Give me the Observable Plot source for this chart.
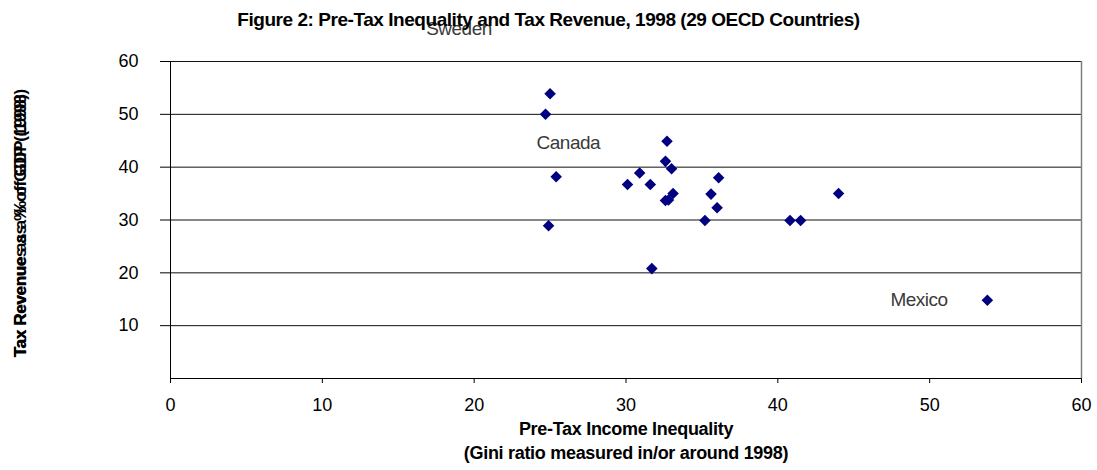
<!DOCTYPE html>
<html>
<head>
<meta charset="utf-8">
<script src="https://cdn.jsdelivr.net/npm/d3@7"></script>
<script src="https://cdn.jsdelivr.net/npm/@observablehq/plot@0.6"></script>
<style>
  html, body { margin: 0; padding: 0; background: #fff; }
  #wrap { position: relative; width: 1097px; height: 470px; }
  #title { position: absolute; left: 0; top: 9px; width: 1097px; text-align: center;
    font-family: "Liberation Sans", Arial, sans-serif; font-weight: bold; font-size: 19px;
    letter-spacing: -0.45px; color: #000; z-index: 2; pointer-events: none; }
</style>
</head>
<body>
<div id="wrap"><div id="title">Figure 2: Pre-Tax Inequality and Tax Revenue, 1998 (29 OECD Countries)</div></div>
<script>
// Pre-tax Gini ratio (x) and tax revenue as % of GDP (y)
const gini       = [25.0, 24.7, 32.7, 32.6, 33.0, 30.9, 25.4, 36.1, 30.1, 31.6, 33.1, 35.6, 44.0, 32.6, 32.8, 36.0, 24.9, 35.2, 40.8, 41.5, 31.7, 53.8];
const taxRevenue = [53.9, 50.0, 44.9, 41.1, 39.7, 38.9, 38.2, 38.0, 36.7, 36.7, 35.0, 34.9, 35.0, 33.7, 33.8, 32.3, 28.9, 29.9, 29.9, 29.9, 20.8, 14.8];

// Data labels as placed in the chart
const labelNames = ["Sweden", "Canada", "Mexico"];
const labelX     = [19.0, 26.2, 49.3];
const labelY     = [66.2, 44.5, 14.8];

const xTicks = [0, 10, 20, 30, 40, 50, 60];
const yTicks = [10, 20, 30, 40, 50, 60];

const xTitle1 = "Pre-Tax Income Inequality";
const xTitle2 = "(Gini ratio measured in/or around 1998)";
const yTitleA = "Tax Revenue as a % of GDP (1998)";
const yTitleB = "Tax Revenues as % of GDP (1998)";

const points = gini.map((g, i) => ({gini: g, tax: taxRevenue[i]}));
const labels = labelNames.map((n, i) => ({name: n, x: labelX[i], y: labelY[i]}));

const font = "Liberation Sans, Arial, sans-serif";

const chart = Plot.plot({
  width: 1097,
  height: 470,
  marginLeft: 170,
  marginRight: 16,
  marginTop: 61,
  marginBottom: 92,
  style: {fontFamily: font, background: "transparent", color: "#000"},
  x: {domain: [0, 60]},
  y: {domain: [0, 60]},
  marks: [
    Plot.ruleY(yTicks, {stroke: "#111", strokeWidth: 1}),
    Plot.ruleY([0], {stroke: "#000", strokeWidth: 1}),
    Plot.ruleX([0], {stroke: "#000", strokeWidth: 1}),
    Plot.ruleX([60], {stroke: "#7f7f7f", strokeWidth: 1.5}),
    Plot.axisX({ticks: xTicks, tickSize: 5, tickPadding: 15, fontSize: 18, label: null, tickFormat: d => String(d)}),
    Plot.axisY({ticks: yTicks, tickSize: 10, tickPadding: 22, fontSize: 18, label: null, tickFormat: d => String(d)}),
    Plot.dot(points, {x: "gini", y: "tax", symbol: "diamond2", r: 5.2, fill: "#000080", stroke: "none"}),
    Plot.text(labels, {x: "x", y: "y", text: "name", fontSize: 19, fill: "#3a3a3a", clip: false, className: "lbl"}),
    Plot.text([xTitle1], {frameAnchor: "bottom", dy: 56, fontSize: 18, fontWeight: "bold", fill: "#000", className: "ttl"}),
    Plot.text([xTitle2], {frameAnchor: "bottom", dy: 80, fontSize: 18, fontWeight: "bold", fill: "#000", className: "ttl"}),
    Plot.text([yTitleA], {frameAnchor: "left", textAnchor: "middle", dx: -150, dy: 3, rotate: -90, fontSize: 17, fontWeight: "bold", fill: "#000", className: "ttl"}),
    Plot.text([yTitleB], {frameAnchor: "left", textAnchor: "middle", dx: -150, dy: 6, rotate: -90, fontSize: 17, fontWeight: "bold", fill: "#000", className: "ttl"})
  ]
});
chart.style.position = "absolute";
chart.style.left = "0";
chart.style.top = "0";
d3.select(chart).selectAll(".ttl text").style("letter-spacing", "-0.3px");
d3.select(chart).selectAll(".lbl text").style("letter-spacing", "-0.5px");
document.getElementById("wrap").appendChild(chart);
</script>
</body>
</html>
